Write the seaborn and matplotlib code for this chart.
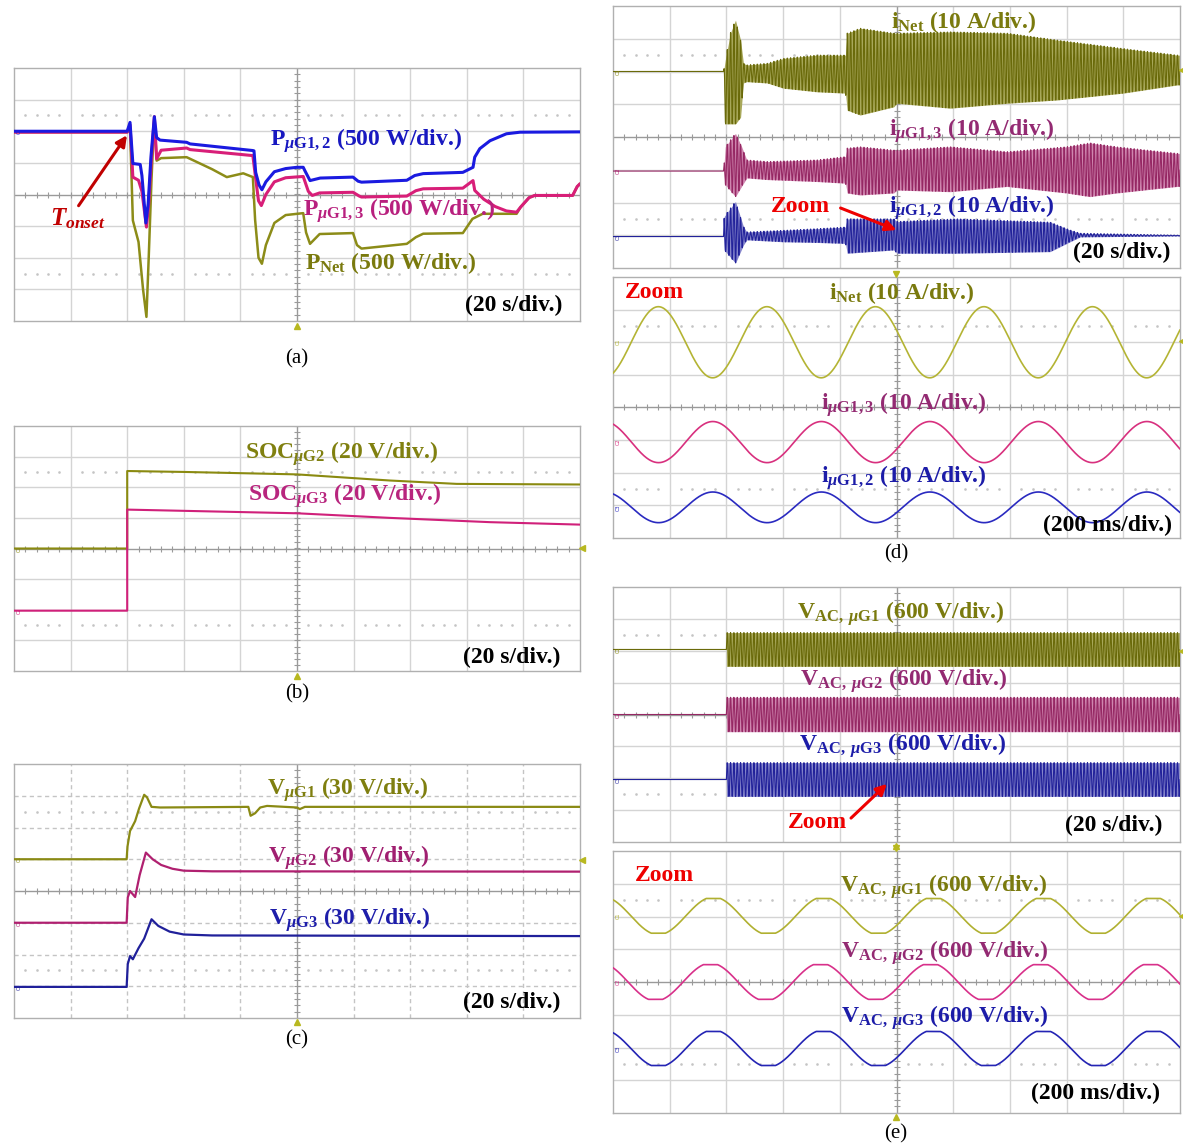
import numpy as np
import matplotlib
matplotlib.use("Agg")
import matplotlib.pyplot as plt
import seaborn as sns

sns.set_style("white")
plt.rcParams['font.family'] = ['Liberation Serif', 'DejaVu Serif']
plt.rcParams['mathtext.fontset'] = 'custom'
plt.rcParams['mathtext.rm'] = 'Liberation Serif'
plt.rcParams['mathtext.bf'] = 'Liberation Serif:bold'
plt.rcParams['mathtext.it'] = 'Liberation Serif:italic'
plt.rcParams['mathtext.bfit'] = 'Liberation Serif:italic:bold'

W, H = 1183, 1144

# ======================= DATA (screen divisions) =======================
# ---- (a) power, 20 s/div ----
a_blue_x = [0, 2.0, 2.05, 2.10, 2.23, 2.26, 2.33, 2.37, 2.42, 2.48, 2.52, 2.58, 3.05, 3.11, 4.22, 4.24,
            4.27, 4.33, 4.38, 4.45, 4.6, 4.8, 5.0, 5.11, 5.14, 5.23, 5.41, 5.99, 6.08, 6.14, 6.94, 7.08,
            7.23, 7.93, 8.11, 8.14, 8.23, 8.41, 8.7, 8.94, 10.0]
a_blue_y = [2.0, 2.0, 2.28, 0.98, 0.95, 0.6, -0.9, -0.3, 1.2, 2.46, 1.8, 1.72, 1.65, 1.6, 1.39, 1.38,
            0.7, 0.3, 0.15, 0.4, 0.72, 0.82, 0.86, 0.86, 0.75, 0.44, 0.52, 0.55, 0.42, 0.39, 0.45, 0.6,
            0.66, 0.7, 0.86, 1.18, 1.45, 1.7, 1.92, 1.97, 1.98]
a_pink_x = [0, 2.0, 2.05, 2.10, 2.2, 2.26, 2.34, 2.38, 2.43, 2.48, 2.52, 2.6, 3.05, 3.11, 4.22, 4.27,
            4.32, 4.37, 4.45, 4.6, 4.8, 5.11, 5.2, 5.27, 5.4, 5.99, 6.1, 6.14, 6.94, 7.1, 7.23, 7.93,
            8.11, 8.14, 8.3, 8.5, 8.7, 8.88, 8.95, 9.1, 9.2, 9.87, 9.95, 10.0]
a_pink_y = [1.97, 1.97, 2.2, 0.55, 0.45, 0.1, -1.03, -0.3, 1.2, 2.46, 1.13, 1.4, 1.47, 1.42, 1.23, 0.5,
            -0.2, -0.35, 0.0, 0.4, 0.53, 0.57, 0.1, -0.03, 0.05, 0.07, -0.05, -0.08, -0.05, 0.12, 0.18, 0.2,
            0.44, 0.13, -0.15, -0.38, -0.52, -0.56, -0.4, -0.1, -0.03, -0.03, 0.25, 0.34]
a_net_x = [0, 2.0, 2.05, 2.1, 2.2, 2.28, 2.34, 2.38, 2.43, 2.48, 2.52, 2.6, 3.05, 3.5, 3.76, 4.05, 4.22,
           4.26, 4.32, 4.38, 4.45, 4.6, 4.8, 5.11, 5.16, 5.23, 5.4, 5.99, 6.06, 6.14, 6.94, 7.1, 7.23,
           7.93, 8.1, 8.28, 8.88, 8.95, 9.1, 9.2, 9.87, 9.95, 10.0]
a_net_y = [1.97, 1.97, 2.1, -0.82, -1.5, -3.0, -3.87, -2.0, 0.5, 2.46, 1.07, 1.15, 1.18, 0.8, 0.55, 0.67, 0.55,
           -0.8, -2.0, -2.19, -1.6, -0.9, -0.65, -0.59, -1.2, -1.56, -1.25, -1.22, -1.6, -1.71, -1.56, -1.35, -1.24,
           -1.22, -0.77, -0.61, -0.61, -0.4, -0.1, -0.03, -0.03, 0.25, 0.34]

# ---- (b) SOC, 20 s/div ----
b_g2_x = [0, 2.0, 2.0, 3.0, 5.0, 6.64, 7.82, 10.0]
b_g2_y = [0, 0, 2.53, 2.5, 2.42, 2.22, 2.11, 2.09]
b_g3_x = [0, 2.0, 2.0, 5.0, 6.64, 8.41, 10.0]
b_g3_y = [-2.03, -2.03, 1.27, 1.15, 1.0, 0.86, 0.78]

# ---- (c) DC voltages, 20 s/div ----
c_g1_x = [0, 1.99, 2.005, 2.05, 2.14, 2.21, 2.30, 2.35, 2.43, 2.58, 4.14, 4.18, 4.26, 4.35, 4.47, 5.0, 5.05, 5.14, 10.0]
c_g1_y = [1.0, 1.0, 1.4, 1.89, 2.2, 2.6, 3.03, 2.95, 2.65, 2.63, 2.65, 2.37, 2.45, 2.63, 2.68, 2.63, 2.58, 2.65, 2.65]
c_g2_x = [0, 1.99, 2.01, 2.05, 2.14, 2.22, 2.33, 2.45, 2.6, 2.8, 3.0, 3.5, 10.0]
c_g2_y = [-1.0, -1.0, -0.2, 0.0, -0.19, 0.5, 1.21, 1.0, 0.82, 0.7, 0.64, 0.62, 0.61]
c_g3_x = [0, 1.99, 2.01, 2.05, 2.1, 2.2, 2.3, 2.43, 2.55, 2.75, 3.0, 3.5, 10.0]
c_g3_y = [-3.02, -3.02, -2.3, -2.05, -2.15, -1.8, -1.5, -0.89, -1.1, -1.28, -1.37, -1.4, -1.42]

# ---- (d) top: AC current envelopes, 20 s/div ----
d_net_x = [0, 1.95, 1.98, 2.07, 2.16, 2.25, 2.30, 2.36, 2.72, 3.01, 3.6, 4.10, 4.13, 4.36, 4.95, 5.01, 5.95, 6.95, 7.83, 9.0, 9.95, 10]
d_net_up = [2.0, 2.0, 2.35, 3.17, 3.57, 2.96, 2.25, 2.2, 2.25, 2.4, 2.5, 2.5, 3.17, 3.32, 3.17, 3.17, 3.21, 3.17, 2.96, 2.7, 2.5, 2.5]
d_net_lo = [2.0, 2.0, 0.4, 0.4, 0.4, 0.6, 1.65, 1.69, 1.65, 1.49, 1.38, 1.34, 0.82, 0.67, 0.92, 1.03, 0.88, 1.03, 1.13, 1.34, 1.59, 1.59]
d_g13_x = [0, 1.95, 1.98, 2.16, 2.27, 2.36, 2.72, 3.6, 4.10, 4.13, 4.36, 4.95, 5.01, 5.95, 6.95, 8.0, 8.41, 8.88, 9.95, 10]
d_g13_up = [-1.04, -1.04, -0.3, 0.11, -0.3, -0.7, -0.75, -0.7, -0.6, -0.34, -0.3, -0.4, -0.4, -0.3, -0.45, -0.3, -0.18, -0.3, -0.5, -0.5]
d_g13_lo = [-1.04, -1.04, -1.46, -1.82, -1.5, -1.25, -1.3, -1.36, -1.41, -1.71, -1.77, -1.71, -1.62, -1.67, -1.51, -1.71, -1.82, -1.71, -1.51, -1.51]
d_g12_x = [0, 1.95, 1.96, 2.16, 2.30, 2.36, 3.01, 3.6, 4.10, 4.13, 4.95, 5.01, 6.07, 7.71, 8.06, 8.24, 9.95, 10]
d_g12_up = [-3.04, -3.04, -2.43, -1.97, -2.73, -2.9, -2.85, -2.8, -2.75, -2.5, -2.5, -2.58, -2.5, -2.6, -2.84, -2.94, -3.0, -3.0]
d_g12_lo = [-3.04, -3.04, -3.45, -3.85, -3.3, -3.14, -3.2, -3.22, -3.25, -3.55, -3.45, -3.55, -3.55, -3.5, -3.2, -3.05, -3.02, -3.02]

# ---- (d) bottom: zoomed currents, 200 ms/div ----  (offset, amplitude, period, first peak position)
dz_names = ["iNet", "iuG13", "iuG12"]
dz_offset = [2.0, -1.06, -3.06]
dz_amp = [1.09, 0.63, 0.47]
dz_period = [1.914, 1.914, 1.914]
dz_peak = [0.80, 1.76, 1.76]

# ---- (e) top: AC voltage envelopes, 20 s/div ----
e_x = [0, 1.999, 2.0, 10]
e_g1_up = [2.04, 2.04, 2.57, 2.57]
e_g1_lo = [2.04, 2.04, 1.51, 1.51]
e_g2_up = [0.0, 0.0, 0.54, 0.54]
e_g2_lo = [0.0, 0.0, -0.54, -0.54]
e_g3_up = [-2.04, -2.04, -1.51, -1.51]
e_g3_lo = [-2.04, -2.04, -2.57, -2.57]

# ---- (e) bottom: zoomed voltages, 200 ms/div ----
ez_offset = [2.02, 0.0, -2.03]
ez_amp = [0.53, 0.53, 0.52]
ez_period = [1.94, 1.94, 1.94]
ez_peak = [1.77, 1.72, 1.77]
ez_clip = 0.92   # flattened crest level (fraction of sine)

# ======================= FIGURE =======================
fig = plt.figure(figsize=(W / 100, H / 100), dpi=100)


def panel(l, t, r, b, dashed=False):
    ax = fig.add_axes([l / W, 1 - b / H, (r - l) / W, (b - t) / H])
    ax.set_xlim(0, 10)
    ax.set_ylim(-4, 4)
    ax.set_xticks([])
    ax.set_yticks([])
    for s in ax.spines.values():
        s.set_color('#b0b0b0')
        s.set_linewidth(1.0)
    ls = (0, (3, 2.5)) if dashed else '-'
    gc = '#c4c4c4' if dashed else '#d4d4d4'
    for k in range(1, 10):
        if k != 5:
            ax.axvline(k, color=gc, lw=1.0, ls=ls, zorder=0)
    for k in range(-3, 4):
        if k != 0:
            ax.axhline(k, color=gc, lw=1.0, ls=ls, zorder=0)
    ax.axvline(5, color='#9a9a9a', lw=1.0, zorder=0)
    ax.axhline(0, color='#9a9a9a', lw=1.0, zorder=0)
    tx = np.arange(0, 10.01, 0.2)
    ax.plot(tx, np.zeros_like(tx), ls='none', marker='|', ms=4, mew=0.8, color='#9a9a9a', zorder=0)
    ty = np.arange(-4, 4.01, 0.2)
    ax.plot(np.full_like(ty, 5), ty, ls='none', marker='_', ms=4, mew=0.8, color='#9a9a9a', zorder=0)
    dx = np.array([v for v in np.arange(0.2, 10, 0.2) if abs(v - round(v)) > 0.01])
    for yy in (2.5, -2.5):
        ax.plot(dx, np.full_like(dx, yy), ls='none', marker='s', ms=0.8, color='#c4c4c4', zorder=0)
    return ax


def trace(ax, x, y, color, lw, z=3):
    sns.lineplot(x=np.asarray(x, float), y=np.asarray(y, float), ax=ax, color=color, lw=lw,
                 estimator=None, sort=False, legend=False, zorder=z)


def carrier(ax, xb, up, lo, color, band, cyc=17.0):
    x = np.linspace(0, 10, 6000)
    u = np.interp(x, xb, up)
    l = np.interp(x, xb, lo)
    mid = (u + l) / 2
    half = (u - l) / 2
    ax.fill_between(x, l, u, color=band, lw=0, zorder=2)
    trace(ax, x, mid + half * np.sin(2 * np.pi * cyc * x), color, 0.8)


def sine(ax, off, amp, per, peak, color, clip=None, lw=1.2):
    x = np.linspace(0, 10, 2000)
    s = np.cos(2 * np.pi * (x - peak) / per)
    if clip is not None:
        s = np.clip(s / clip, -1, 1)
    trace(ax, x, off + amp * s, color, lw)


def chmark(ax, y, color, name):
    ax.text(0.04, y, name, fontsize=3.5, color=color, rotation=90, ha='left', va='center',
            family='DejaVu Sans', zorder=5)


def label(x, y, s, color, size=17, ha='left', weight='bold'):
    fig.text(x / W, 1 - y / H, s, color=color, fontsize=size, ha=ha, va='baseline',
             family='Liberation Serif', fontweight=weight)


def arrow(x1, y1, x2, y2, color):
    fig.add_artist(matplotlib.patches.FancyArrowPatch(
        (x1 / W, 1 - y1 / H), (x2 / W, 1 - y2 / H), transform=fig.transFigure,
        arrowstyle='-|>', mutation_scale=16, color=color, lw=2.2))


def tri(x, y, marker='^'):
    fig.add_artist(matplotlib.lines.Line2D([x / W], [1 - y / H], marker=marker, ms=4,
                                           color='#b8b820', transform=fig.transFigure))


OLV_L, PNK_L, BLU_L, RED = '#7a7a0e', '#b0207a', '#1a1ab0', '#ee0000'

# ---------- (a) ----------
ax = panel(14, 68, 580, 321)
trace(ax, a_net_x, a_net_y, '#8c8c18', 1.8)
trace(ax, a_pink_x, a_pink_y, '#d81e78', 2.2)
trace(ax, a_blue_x, a_blue_y, '#1a1ae0', 2.2)
chmark(ax, 2.0, '#1a1ae0', 'C1')
label(270, 146, r"$\mathbf{P}_{\mathbfit{\mu}\mathbf{G1,2}}$ (500 W/div.)", '#1818c0')
label(303, 216, r"$\mathbf{P}_{\mathbfit{\mu}\mathbf{G1,3}}$ (500 W/div.)", '#b8207e')
label(305, 269, r"$\mathbf{P}_{\mathbf{Net}}$ (500 W/div.)", OLV_L)
label(562, 311, "(20 s/div.)", 'black', ha='right')
label(50, 225, r"$\mathbfit{T}_{\mathbfit{onset}}$", '#c00000', size=18)
arrow(77, 208, 128.5, 133, '#c00000')
tri(297, 326)
label(297, 363, "(a)", 'black', size=15, ha='center', weight='normal')

# ---------- (b) ----------
ax = panel(14, 426, 580, 671)
trace(ax, b_g2_x, b_g2_y, '#8a8a10', 1.5)
trace(ax, b_g3_x, b_g3_y, '#d0207a', 1.5)
chmark(ax, 0.0, '#8a8a10', 'C1')
chmark(ax, -2.03, '#d0207a', 'C2')
label(245, 459, r"$\mathbf{SOC}_{\mathbfit{\mu}\mathbf{G2}}$ (20 V/div.)", '#808010')
label(248, 501, r"$\mathbf{SOC}_{\mathbfit{\mu}\mathbf{G3}}$ (20 V/div.)", '#b8257e')
label(560, 663, "(20 s/div.)", 'black', ha='right')
tri(297, 676)
tri(582, 548, '<')
label(297, 698, "(b)", 'black', size=15, ha='center', weight='normal')

# ---------- (c) ----------
ax = panel(14, 764, 580, 1018, dashed=True)
trace(ax, c_g1_x, c_g1_y, '#8a8a14', 1.6)
trace(ax, c_g2_x, c_g2_y, '#b02070', 1.6)
trace(ax, c_g3_x, c_g3_y, '#20209a', 1.6)
chmark(ax, 1.0, '#8a8a14', 'C1')
chmark(ax, -1.0, '#b02070', 'C2')
chmark(ax, -3.02, '#20209a', 'C3')
label(267, 794.5, r"$\mathbf{V}_{\mathbfit{\mu}\mathbf{G1}}$ (30 V/div.)", '#7f7f10')
label(268, 863, r"$\mathbf{V}_{\mathbfit{\mu}\mathbf{G2}}$ (30 V/div.)", '#a01f70')
label(269, 924.5, r"$\mathbf{V}_{\mathbfit{\mu}\mathbf{G3}}$ (30 V/div.)", '#1e1eaa')
label(560, 1008, "(20 s/div.)", 'black', ha='right')
tri(297, 1022)
tri(582, 860, '<')
label(297, 1044, "(c)", 'black', size=15, ha='center', weight='normal')

# ---------- (d) top ----------
ax = panel(613, 6, 1180, 268)
carrier(ax, d_net_x, d_net_up, d_net_lo, '#6a6a0a', '#a8a85a')
carrier(ax, d_g13_x, d_g13_up, d_g13_lo, '#962864', '#cf86af')
carrier(ax, d_g12_x, d_g12_up, d_g12_lo, '#22229a', '#8686cc')
chmark(ax, 2.0, '#8a8a14', 'C1')
chmark(ax, -1.04, '#b02070', 'C2')
chmark(ax, -3.04, '#20209a', 'C3')
label(891, 28, r"$\mathbf{i}_{\mathbf{Net}}$ (10 A/div.)", OLV_L)
label(889, 136, r"$\mathbf{i}_{\mathbfit{\mu}\mathbf{G1,3}}$ (10 A/div.)", '#932a72')
label(889, 213, r"$\mathbf{i}_{\mathbfit{\mu}\mathbf{G1,2}}$ (10 A/div.)", '#1c1ca8')
label(1170, 258, "(20 s/div.)", 'black', ha='right')
label(771, 212, "Zoom", RED)
arrow(838, 207, 899, 231, RED)
tri(1182, 70, '<')

# ---------- (d) bottom ----------
ax = panel(613, 277, 1180, 538)
dz_cols = ['#b4b434', '#d8307e', '#2a2ac0']
for off, amp, per, pk, col in zip(dz_offset, dz_amp, dz_period, dz_peak, dz_cols):
    sine(ax, off, amp, per, pk, col)
chmark(ax, 2.0, '#b4b434', 'C1')
chmark(ax, -1.06, '#d8307e', 'C2')
chmark(ax, -3.06, '#2a2ac0', 'C3')
label(625, 298, "Zoom", RED)
label(829, 299, r"$\mathbf{i}_{\mathbf{Net}}$ (10 A/div.)", OLV_L)
label(821, 410, r"$\mathbf{i}_{\mathbfit{\mu}\mathbf{G1,3}}$ (10 A/div.)", '#932a72')
label(821, 483, r"$\mathbf{i}_{\mathbfit{\mu}\mathbf{G1,2}}$ (10 A/div.)", '#1c1ca8')
label(1172, 531, "(200 ms/div.)", 'black', ha='right')
tri(896, 274, 'v')
tri(1182, 341, '<')
label(896, 558, "(d)", 'black', size=15, ha='center', weight='normal')

# ---------- (e) top ----------
ax = panel(613, 587, 1180, 842)
carrier(ax, e_x, e_g1_up, e_g1_lo, '#6a6a0a', '#a8a85a')
carrier(ax, e_x, e_g2_up, e_g2_lo, '#962864', '#cf86af')
carrier(ax, e_x, e_g3_up, e_g3_lo, '#22229a', '#8686cc')
chmark(ax, 2.04, '#8a8a14', 'C1')
chmark(ax, 0.0, '#b02070', 'C2')
chmark(ax, -2.04, '#20209a', 'C3')
label(797, 619, r"$\mathbf{V}_{\mathbf{AC,}\ \mathbfit{\mu}\mathbf{G1}}$ (600 V/div.)", OLV_L)
label(800, 686, r"$\mathbf{V}_{\mathbf{AC,}\ \mathbfit{\mu}\mathbf{G2}}$ (600 V/div.)", '#932a72')
label(799, 751, r"$\mathbf{V}_{\mathbf{AC,}\ \mathbfit{\mu}\mathbf{G3}}$ (600 V/div.)", '#1c1ca8')
label(1162, 831, "(20 s/div.)", 'black', ha='right')
label(788, 828, "Zoom", RED)
arrow(849, 820, 889, 782, RED)
tri(896, 846)
tri(1182, 651, '<')

# ---------- (e) bottom ----------
ax = panel(613, 851, 1180, 1113)
ez_cols = ['#b0b030', '#d8308a', '#2424b4']
for off, amp, per, pk, col in zip(ez_offset, ez_amp, ez_period, ez_peak, ez_cols):
    sine(ax, off, amp, per, pk, col, clip=ez_clip)
chmark(ax, 2.02, '#b0b030', 'C1')
chmark(ax, 0.0, '#d8308a', 'C2')
chmark(ax, -2.03, '#2424b4', 'C3')
label(635, 881, "Zoom", RED)
label(840, 891.5, r"$\mathbf{V}_{\mathbf{AC,}\ \mathbfit{\mu}\mathbf{G1}}$ (600 V/div.)", OLV_L)
label(841, 958, r"$\mathbf{V}_{\mathbf{AC,}\ \mathbfit{\mu}\mathbf{G2}}$ (600 V/div.)", '#932a72')
label(841, 1023, r"$\mathbf{V}_{\mathbf{AC,}\ \mathbfit{\mu}\mathbf{G3}}$ (600 V/div.)", '#1c1ca8')
label(1160, 1099, "(200 ms/div.)", 'black', ha='right')
tri(896, 848, 'v')
tri(896, 1117)
tri(1182, 916, '<')
label(896, 1138, "(e)", 'black', size=15, ha='center', weight='normal')

fig.savefig("out.png", dpi=100)
